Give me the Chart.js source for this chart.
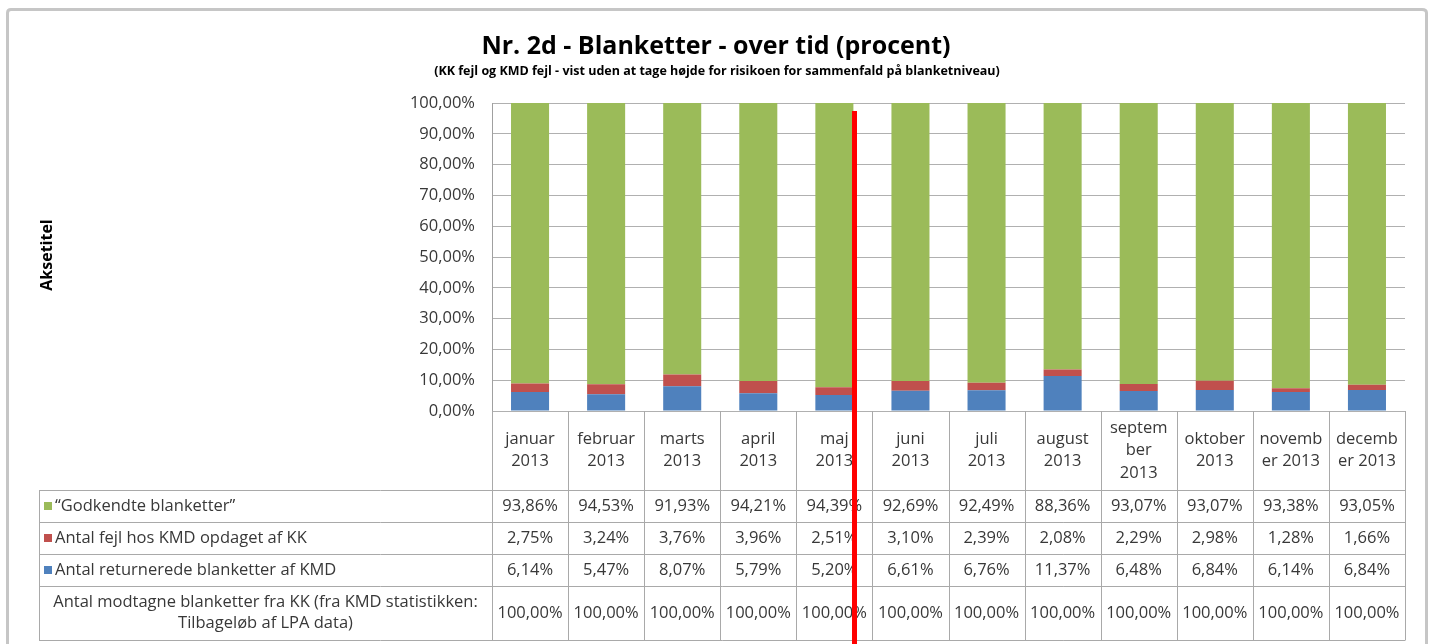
<!DOCTYPE html>
<html>
<head>
<meta charset="utf-8">
<script src="https://cdn.jsdelivr.net/npm/chart.js@4/dist/chart.umd.min.js"></script>
<style>
  html, body { margin: 0; padding: 0; background: #fff; }
  #wrap { width: 1432px; height: 644px; }
</style>
</head>
<body>
<div id="wrap"><canvas id="chart" width="1432" height="644"></canvas></div>
<script>
// Data (procent)
const maaneder = [
    ['januar', '2013'], ['februar', '2013'], ['marts', '2013'], ['april', '2013'],
    ['maj', '2013'], ['juni', '2013'], ['juli', '2013'], ['august', '2013'],
    ['septem', 'ber', '2013'], ['oktober', '2013'], ['novemb', 'er 2013'], ['decemb', 'er 2013']
];
const godkendte = [93.86, 94.53, 91.93, 94.21, 94.39, 92.69, 92.49, 88.36, 93.07, 93.07, 93.38, 93.05];
const fejlKMD = [2.75, 3.24, 3.76, 3.96, 2.51, 3.10, 2.39, 2.08, 2.29, 2.98, 1.28, 1.66];
const returnerede = [6.14, 5.47, 8.07, 5.79, 5.20, 6.61, 6.76, 11.37, 6.48, 6.84, 6.14, 6.84];
const modtagne = [100, 100, 100, 100, 100, 100, 100, 100, 100, 100, 100, 100];
const yTicks = [0, 10, 20, 30, 40, 50, 60, 70, 80, 90, 100];

const GREEN = '#9bbb59', RED = '#c0504d', BLUE = '#4f81bd';
const FONT = '"Open Sans", "DejaVu Sans", sans-serif';
const TXT = '#383838';
const LINE = '#a9a9a9';

const pct = v => v.toFixed(2).replace('.', ',') + '%';

// Tabel-rækker under grafen (samme rækkefølge som i Excel)
const rows = [
    { label: '\u201cGodkendte blanketter\u201d', color: GREEN, values: godkendte },
    { label: 'Antal fejl hos KMD opdaget af KK', color: RED, values: fejlKMD },
    { label: 'Antal returnerede blanketter af KMD', color: BLUE, values: returnerede },
    { label: ['Antal modtagne blanketter fra KK (fra KMD statistikken:', 'Tilbageløb af LPA data)'], color: null, values: modtagne }
];

// Tegner ramme, titler, tabel og den røde markering
const tablePlugin = {
    id: 'tabel',
    beforeDraw(chart) {
        const c = chart.ctx;
        c.save();
        c.fillStyle = '#fff';
        c.fillRect(0, 0, chart.width, chart.height);
        c.strokeStyle = '#c6c6c6';
        c.lineWidth = 3;
        c.beginPath();
        c.moveTo(7.5, 660);
        c.lineTo(7.5, 13);
        c.quadraticCurveTo(7.5, 9.5, 11, 9.5);
        c.lineTo(1422, 9.5);
        c.quadraticCurveTo(1426.5, 9.5, 1426.5, 13);
        c.lineTo(1426.5, 660);
        c.stroke();
        c.restore();
    },
    afterDraw(chart) {
        const c = chart.ctx;
        const area = chart.chartArea;
        const x = chart.scales.x;
        const n = chart.data.labels.length;
        const colW = (area.right - area.left) / n;
        const legendLeft = 39;
        const rowLines = [490, 522, 554, 586, 640];

        c.save();
        // titler
        c.fillStyle = '#000';
        c.textAlign = 'center';
        c.textBaseline = 'alphabetic';
        c.font = 'bold 25px ' + FONT;
        c.fillText('Nr. 2d - Blanketter - over tid (procent)', 716, 54);
        c.font = 'bold 12.5px ' + FONT;
        c.fillText('(KK fejl og KMD fejl - vist uden at tage højde for risikoen for sammenfald på blanketniveau)', 717, 75);

        // aksetitel
        c.save();
        c.translate(47, 255);
        c.rotate(-Math.PI / 2);
        c.font = 'bold 16px ' + FONT;
        c.textBaseline = 'middle';
        c.fillText('Aksetitel', 0, 0);
        c.restore();

        // linjer
        c.strokeStyle = LINE;
        c.lineWidth = 1;
        c.beginPath();
        for (let i = 0; i <= n; i++) {
            const px = Math.round(area.left + i * colW) + 0.5;
            c.moveTo(px, area.bottom);
            c.lineTo(px, rowLines[rowLines.length - 1]);
        }
        rowLines.forEach(y => {
            c.moveTo(legendLeft, y + 0.5);
            c.lineTo(Math.round(area.right) + 0.5, y + 0.5);
        });
        c.moveTo(legendLeft + 0.5, rowLines[0]);
        c.lineTo(legendLeft + 0.5, rowLines[rowLines.length - 1]);
        c.stroke();

        // månedsnavne
        c.fillStyle = TXT;
        c.font = '16.5px ' + FONT;
        c.textBaseline = 'middle';
        c.textAlign = 'center';
        const headMid = (area.bottom + rowLines[0]) / 2;
        chart.data.labels.forEach((lab, i) => {
            const cx = x.getPixelForValue(i);
            const lh = 22.5;
            const y0 = headMid - (lab.length - 1) * lh / 2;
            lab.forEach((t, k) => c.fillText(t, cx, y0 + k * lh));
        });

        // rækker
        rows.forEach((r, ri) => {
            const top = rowLines[ri], bot = rowLines[ri + 1];
            const mid = (top + bot) / 2;
            if (Array.isArray(r.label)) {
                c.textAlign = 'center';
                const lc = (legendLeft + area.left) / 2;
                c.fillText(r.label[0], lc, mid - 10.5);
                c.fillText(r.label[1], lc, mid + 10.5);
            } else {
                c.fillStyle = r.color;
                c.fillRect(44, Math.round(mid) - 4, 8, 8);
                c.fillStyle = TXT;
                c.textAlign = 'left';
                c.fillText(r.label, 55, mid);
            }
            c.textAlign = 'center';
            r.values.forEach((v, i) => c.fillText(pct(v), x.getPixelForValue(i), mid));
        });

        // rød markering ved maj
        const mx = x.getPixelForValue(4) + colW / 4 - 1;
        c.fillStyle = '#ff0000';
        c.fillRect(Math.round(mx), 111, 5, chart.height - 111);
        c.restore();
    }
};

const ctx = document.getElementById('chart').getContext('2d');
new Chart(ctx, {
    type: 'bar',
    data: {
        labels: maaneder,
        datasets: [
            { label: 'Antal returnerede blanketter af KMD', data: returnerede, backgroundColor: BLUE },
            { label: 'Antal fejl hos KMD opdaget af KK', data: fejlKMD, backgroundColor: RED },
            { label: '\u201cGodkendte blanketter\u201d', data: godkendte, backgroundColor: GREEN }
        ]
    },
    options: {
        responsive: false,
        animation: false,
        layout: { padding: { left: 0, top: 103, right: 27, bottom: 233 } },
        datasets: { bar: { barPercentage: 0.5, categoryPercentage: 1, borderWidth: 0, clip: 0 } },
        scales: {
            x: { stacked: true, display: false },
            y: {
                stacked: true,
                min: 0,
                max: 100,
                afterBuildTicks: s => { s.ticks = yTicks.map(v => ({ value: v })); },
                afterFit: s => { s.width = 492; },
                grid: { color: '#b0b0b0', drawTicks: false },
                border: { color: '#a0a0a0' },
                ticks: {
                    padding: 17,
                    color: TXT,
                    font: { family: FONT, size: 16.5 },
                    callback: v => pct(v)
                }
            }
        },
        plugins: {
            legend: { display: false },
            title: { display: false },
            tooltip: { enabled: false }
        }
    },
    plugins: [tablePlugin]
});
</script>
</body>
</html>
